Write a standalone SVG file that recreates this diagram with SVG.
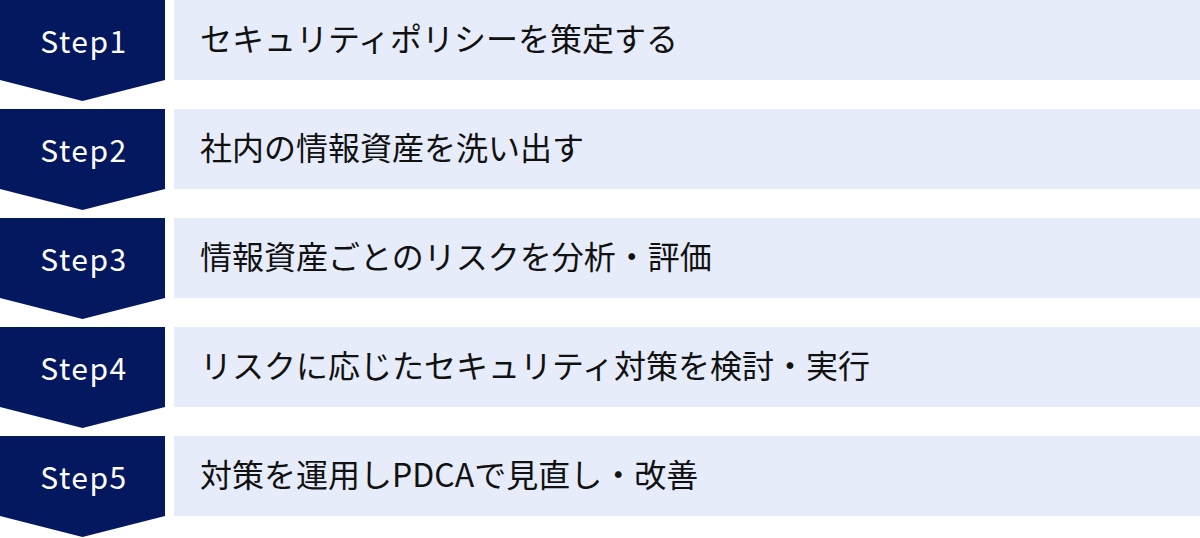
<svg xmlns="http://www.w3.org/2000/svg" width="1200" height="538" viewBox="0 0 1200 538">
<defs>
<style>
.badge{fill:#041860;}
.box{fill:#E6ECF9;}
.step{fill:#FFFFFF;font-family:"Noto Sans CJK JP","Noto Sans",sans-serif;font-size:30px;letter-spacing:1.5px;text-anchor:middle;}
.label{fill:#111111;font-family:"Noto Sans CJK JP",sans-serif;font-size:32px;}
</style>
<polygon id="chev" points="0,0 165,0 165,80 82.5,101 0,80"/>
</defs>
<rect width="1200" height="538" fill="#FFFFFF"/>
<g id="connectors"></g>
<g id="step1" transform="translate(0,0)">
<use href="#chev" class="badge"/>
<rect class="box" x="174" y="0" width="1026" height="80"/>
<text class="step" x="84" y="52.5">Step1</text>
<text class="label" x="200" y="51">セキュリティポリシーを策定する</text>
</g>
<g id="step2" transform="translate(0,109)">
<use href="#chev" class="badge"/>
<rect class="box" x="174" y="0" width="1026" height="80"/>
<text class="step" x="84" y="52.5">Step2</text>
<text class="label" x="200" y="51">社内の情報資産を洗い出す</text>
</g>
<g id="step3" transform="translate(0,218)">
<use href="#chev" class="badge"/>
<rect class="box" x="174" y="0" width="1026" height="80"/>
<text class="step" x="84" y="52.5">Step3</text>
<text class="label" x="200" y="51">情報資産ごとのリスクを分析・評価</text>
</g>
<g id="step4" transform="translate(0,327)">
<use href="#chev" class="badge"/>
<rect class="box" x="174" y="0" width="1026" height="80"/>
<text class="step" x="84" y="52.5">Step4</text>
<text class="label" x="200" y="51">リスクに応じたセキュリティ対策を検討・実行</text>
</g>
<g id="step5" transform="translate(0,436)">
<use href="#chev" class="badge"/>
<rect class="box" x="174" y="0" width="1026" height="80"/>
<text class="step" x="84" y="52.5">Step5</text>
<text class="label" x="200" y="51">対策を運用しPDCAで見直し・改善</text>
</g>
</svg>
